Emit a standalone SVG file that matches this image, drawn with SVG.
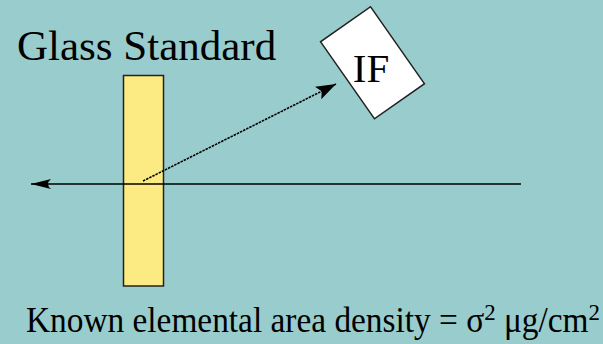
<svg xmlns="http://www.w3.org/2000/svg" width="603" height="344" viewBox="0 0 603 344">
<style>
text{font-family:'Liberation Serif','DejaVu Serif',serif;fill:#000}
</style>
<defs>
<marker id="ahl" viewBox="0 0 20 12" refX="20" refY="6" markerWidth="20" markerHeight="12" markerUnits="userSpaceOnUse" orient="auto" overflow="visible">
<path d="M0,1 Q6,6 0,11 L20,6 Z" fill="#000"/>
</marker>
<marker id="ahd" viewBox="0 0 20 14" refX="20" refY="7" markerWidth="20" markerHeight="14" markerUnits="userSpaceOnUse" orient="auto" overflow="visible">
<path d="M0,0 L20,7 L0,14 L4,7 Z" fill="#000"/>
</marker>
</defs>
<rect width="603" height="344" fill="#99CCCC"/>
<g id="glass">
<rect x="123.5" y="75.5" width="40" height="210.5" fill="#FCEA82" stroke="#222" stroke-width="1.5"/>
</g>
<g id="if-box">
<rect x="-30.5" y="-47" width="61" height="94" fill="#FFFFFF" stroke="#222" stroke-width="1.5" transform="translate(372.5,62.75) rotate(-35)"/>
<text x="371" y="82" font-size="41" text-anchor="middle" font-family="Liberation Serif, serif">IF</text>
</g>
<g id="connectors">
<line x1="521" y1="184" x2="31" y2="184" stroke="#000" stroke-width="1.5" marker-end="url(#ahl)"/>
<line x1="143" y1="181" x2="336" y2="84" stroke="#000" stroke-width="1.6" stroke-dasharray="2.5,1" marker-end="url(#ahd)"/>
</g>
<g id="labels">
<text x="17" y="60" font-size="43" font-family="Liberation Serif, serif">Glass Standard</text>
<text x="26" y="332" font-size="35" font-family="Liberation Serif, serif" textLength="574" lengthAdjust="spacingAndGlyphs">Known elemental area density = σ<tspan font-size="24" dy="-12">2</tspan><tspan dy="12"> μg/cm</tspan><tspan font-size="24" dy="-12">2</tspan></text>
</g>
</svg>
